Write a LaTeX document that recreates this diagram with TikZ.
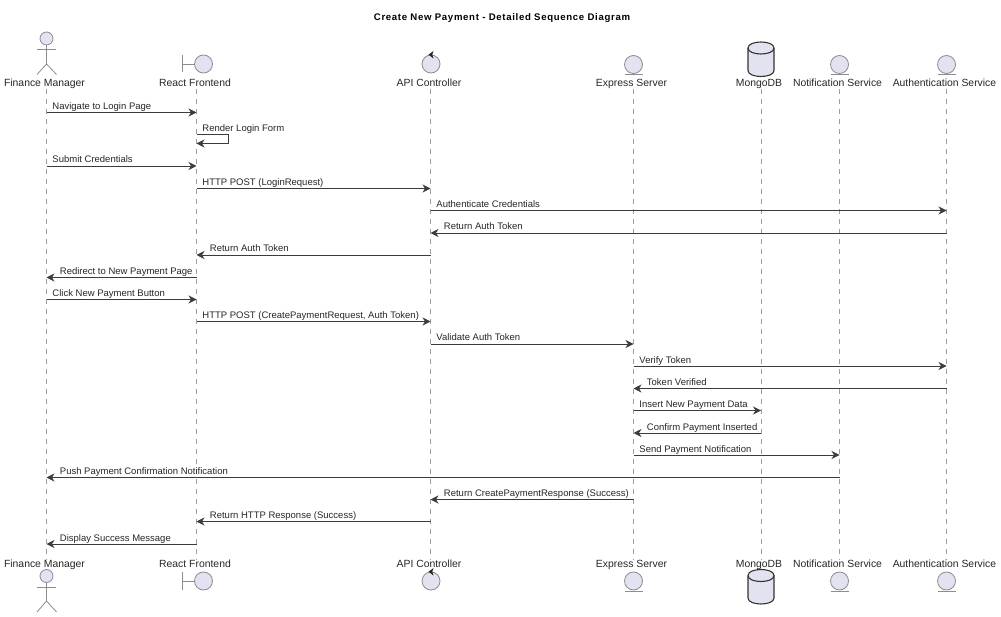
\documentclass[tikz,border=0pt]{standalone}
\usepackage{fontspec}
\setmainfont{Liberation Sans}
\newfontfamily\titlefont[LetterSpace=7]{Liberation Sans}
\usepackage{xcolor}
\usetikzlibrary{positioning,arrows.meta}
\definecolor{partbg}{RGB}{226,226,240}
\definecolor{partln}{RGB}{140,140,145}
\definecolor{msgln}{RGB}{60,60,60}
\tikzset{
  partname/.style={inner sep=0pt, text height=7.5pt, text depth=2pt, font=\fontsize{10.4}{12}\selectfont, text=black!85},
  headc/.style={circle, draw=partln, fill=partbg, inner sep=0pt, minimum size=18pt, line width=0.8pt},
  dbase/.style={draw=black!80, fill=partbg, line width=1.1pt},
  dblip/.style={draw=black!80, line width=1.1pt},
  stick/.style={draw=partln, line width=0.8pt},
  ctlmark/.style={fill=black!85},
  life/.style={draw=black!38, dash pattern=on 5pt off 5pt, line width=0.6pt},
  arr/.style={-{Stealth[length=8pt,width=8pt,inset=2.5pt]}, draw=msgln, line width=0.9pt},
  msgr/.style={pos=0, anchor=base west, inner sep=0pt, xshift=5.5pt, yshift=3pt, font=\fontsize{9.5}{11}\selectfont, text=black!85},
  msgl/.style={pos=1, anchor=base west, inner sep=0pt, xshift=13pt, yshift=3pt, font=\fontsize{9.5}{11}\selectfont, text=black!85},
}
\begin{document}
\begin{tikzpicture}[x=1pt,y=-1pt]
  \useasboundingbox (0,0) rectangle (1001,617);

  \node[font=\titlefont\bfseries\fontsize{9.6}{11}\selectfont, inner sep=0pt] (title) at (502,18.5) {Create New Payment - Detailed Sequence Diagram};

  % names, top
  \node[partname] (fm) at (44.5,84) {Finance Manager};
  \node[partname] (rf) at (195,84) {React Frontend};
  \node[partname] (ac) at (429,84) {API Controller};
  \node[partname] (es) at (631.5,84) {Express Server};
  \node[partname] (db) at (759,84) {MongoDB};
  \node[partname] (ns) at (837.5,84) {Notification Service};
  \node[partname] (as) at (944.5,84) {Authentication Service};

  % names, bottom
  \node[partname] (fmb) at (44.5,565) {Finance Manager};
  \node[partname] (rfb) at (195,565) {React Frontend};
  \node[partname] (acb) at (429,565) {API Controller};
  \node[partname] (esb) at (631.5,565) {Express Server};
  \node[partname] (dbb) at (759,565) {MongoDB};
  \node[partname] (nsb) at (837.5,565) {Notification Service};
  \node[partname] (asb) at (944.5,565) {Authentication Service};

  % lifelines
  \coordinate (lfm) at (46.5,0);
  \coordinate (lrf) at (196.5,0);
  \coordinate (lac) at (430.5,0);
  \coordinate (les) at (633.5,0);
  \coordinate (ldb) at (761,0);
  \coordinate (lns) at (839.5,0);
  \coordinate (las) at (946.5,0);
  \draw[life] (lfm |- fm.south) -- (lfm |- fmb.north);
  \draw[life] (lrf |- rf.south) -- (lrf |- rfb.north);
  \draw[life] (lac |- ac.south) -- (lac |- acb.north);
  \draw[life] (les |- es.south) -- (les |- esb.north);
  \draw[life] (ldb |- db.south) -- (ldb |- dbb.north);
  \draw[life] (lns |- ns.south) -- (lns |- nsb.north);
  \draw[life] (las |- as.south) -- (las |- asb.north);

  % actor
  \node[headc, minimum size=13pt] (fmh) at (46.5,38.5) {};
  \coordinate (fmf) at (46.5,64);
  \draw[stick] (fmh.south) -- (fmf);
  \draw[stick] (37,49.5) -- (56,49.5);
  \draw[stick] (37,74.5) -- (fmf) -- (56.5,74.5);
  \node[headc, minimum size=13pt] (fmbh) at (46.5,576) {};
  \coordinate (fmbf) at (46.5,601);
  \draw[stick] (fmbh.south) -- (fmbf);
  \draw[stick] (37,587) -- (56,587);
  \draw[stick] (37,612) -- (fmbf) -- (56.5,612);

  % boundary
  \node[headc] (rfh) at (203.5,64) {};
  \coordinate (rfs) at (182.5,64);
  \draw[stick] (rfs) -- (rfh.west);
  \draw[stick] (182.5,55) -- (182.5,72.5);
  \node[headc] (rfbh) at (203.5,581) {};
  \coordinate (rfbs) at (182.5,581);
  \draw[stick] (rfbs) -- (rfbh.west);
  \draw[stick] (182.5,572) -- (182.5,590);

  % control
  \node[headc] (ach) at (431,64) {};
  \fill[ctlmark] (ach.north) ++(-2.5,0) -- ++(5,-3.5) -- ++(-1.2,3.5) -- ++(1.2,4) -- cycle;
  \node[headc] (acbh) at (431,581) {};
  \fill[ctlmark] (acbh.north) ++(-2.5,0) -- ++(5,-3.5) -- ++(-1.2,3.5) -- ++(1.2,4) -- cycle;

  % entities
  \node[headc] (esh) at (633.5,64.5) {};
  \draw[stick] (624.5,74) -- (642.5,74);
  \node[headc] (esbh) at (633.5,581) {};
  \draw[stick] (624.5,591) -- (642.5,591);
  \node[headc] (nsh) at (839.5,64.5) {};
  \draw[stick] (830.5,74) -- (848.5,74);
  \node[headc] (nsbh) at (839.5,581) {};
  \draw[stick] (830.5,591) -- (848.5,591);
  \node[headc] (ash) at (946.5,64.5) {};
  \draw[stick] (937.5,74) -- (955.5,74);
  \node[headc] (asbh) at (946.5,581) {};
  \draw[stick] (937.5,591) -- (955.5,591);

  % database
  \draw[dbase] (748,48) .. controls (748,40) and (774,40) .. (774,48) -- (774,70.5)
    .. controls (774,78.5) and (748,78.5) .. (748,70.5) -- cycle;
  \draw[dblip] (748,48) .. controls (748,56) and (774,56) .. (774,48);
  \draw[dbase] (748,575.5) .. controls (748,567.5) and (774,567.5) .. (774,575.5) -- (774,598)
    .. controls (774,606) and (748,606) .. (748,598) -- cycle;
  \draw[dblip] (748,575.5) .. controls (748,583.5) and (774,583.5) .. (774,575.5);

  % rows
  \coordinate (r1) at (0,112.5);
  \coordinate (r2) at (0,134.5);
  \coordinate (r2e) at (0,143.5);
  \coordinate (r3) at (0,166);
  \coordinate (r4) at (0,188.5);
  \coordinate (r5) at (0,210.5);
  \coordinate (r6) at (0,233);
  \coordinate (r7) at (0,255);
  \coordinate (r8) at (0,277.5);
  \coordinate (r9) at (0,299.5);
  \coordinate (r10) at (0,321.5);
  \coordinate (r11) at (0,344);
  \coordinate (r12) at (0,366);
  \coordinate (r13) at (0,388.5);
  \coordinate (r14) at (0,410.5);
  \coordinate (r15) at (0,433);
  \coordinate (r16) at (0,455);
  \coordinate (r17) at (0,477.5);
  \coordinate (r18) at (0,499.5);
  \coordinate (r19) at (0,521.5);
  \coordinate (r20) at (0,544);

  % messages
  \draw[arr] (lfm |- r1) -- node[msgr]{Navigate to Login Page} (lrf |- r1);
  \draw[arr] (lrf |- r2) -- node[msgr]{Render Login Form} ++(32,0) |- (lrf |- r2e);
  \draw[arr] (lfm |- r3) -- node[msgr]{Submit Credentials} (lrf |- r3);
  \draw[arr] (lrf |- r4) -- node[msgr]{HTTP POST (LoginRequest)} (lac |- r4);
  \draw[arr] (lac |- r5) -- node[msgr]{Authenticate Credentials} (las |- r5);
  \draw[arr] (las |- r6) -- node[msgl]{Return Auth Token} (lac |- r6);
  \draw[arr] (lac |- r7) -- node[msgl]{Return Auth Token} (lrf |- r7);
  \draw[arr] (lrf |- r8) -- node[msgl]{Redirect to New Payment Page} (lfm |- r8);
  \draw[arr] (lfm |- r9) -- node[msgr]{Click New Payment Button} (lrf |- r9);
  \draw[arr] (lrf |- r10) -- node[msgr]{HTTP POST (CreatePaymentRequest, Auth Token)} (lac |- r10);
  \draw[arr] (lac |- r11) -- node[msgr]{Validate Auth Token} (les |- r11);
  \draw[arr] (les |- r12) -- node[msgr]{Verify Token} (las |- r12);
  \draw[arr] (las |- r13) -- node[msgl]{Token Verified} (les |- r13);
  \draw[arr] (les |- r14) -- node[msgr]{Insert New Payment Data} (ldb |- r14);
  \draw[arr] (ldb |- r15) -- node[msgl]{Confirm Payment Inserted} (les |- r15);
  \draw[arr] (les |- r16) -- node[msgr]{Send Payment Notification} (lns |- r16);
  \draw[arr] (lns |- r17) -- node[msgl]{Push Payment Confirmation Notification} (lfm |- r17);
  \draw[arr] (les |- r18) -- node[msgl]{Return CreatePaymentResponse (Success)} (lac |- r18);
  \draw[arr] (lac |- r19) -- node[msgl]{Return HTTP Response (Success)} (lrf |- r19);
  \draw[arr] (lrf |- r20) -- node[msgl]{Display Success Message} (lfm |- r20);
\end{tikzpicture}
\end{document}
